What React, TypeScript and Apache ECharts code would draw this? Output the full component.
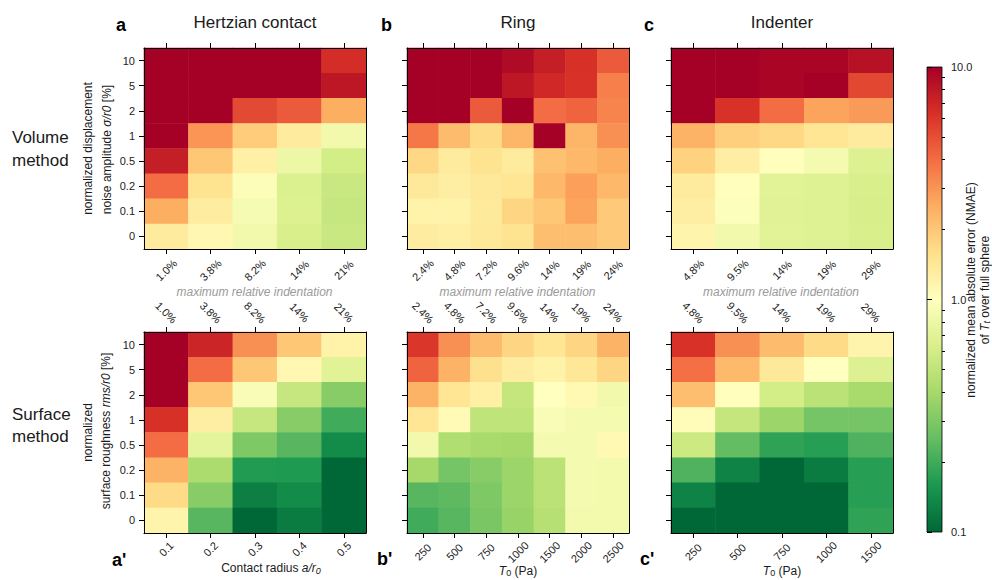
import React, { useEffect, useRef } from 'react';
import * as echarts from 'echarts';

const FONT = "'Liberation Sans', Arial, Helvetica, sans-serif";

// ---------- data ----------
const noiseLevels = ['0', '0.1', '0.2', '0.5', '1', '2', '5', '10'];
const hertzRadius = ['0.1', '0.2', '0.3', '0.4', '0.5'];
const hertzIndentation = ['1.0%', '3.8%', '8.2%', '14%', '21%'];
const ringT0 = ['250', '500', '750', '1000', '1500', '2000', '2500'];
const ringIndentation = ['2.4%', '4.8%', '7.2%', '9.6%', '14%', '19%', '24%'];
const indenterT0 = ['250', '500', '750', '1000', '1500'];
const indenterIndentation = ['4.8%', '9.5%', '14%', '19%', '29%'];

// NMAE values, rows listed from top (10) to bottom (0)
const volumeHertz = [
  [10, 10, 10, 10, 6.5],
  [10, 10, 10, 10, 8],
  [10, 10, 5.2, 4.6, 2.5],
  [10, 3.0, 1.9, 1.35, 0.85],
  [7.5, 2.0, 1.25, 0.8, 0.6],
  [4.0, 1.5, 0.95, 0.65, 0.55],
  [2.5, 1.3, 0.9, 0.66, 0.53],
  [1.35, 1.12, 0.85, 0.63, 0.55],
];
const volumeRing = [
  [10, 10, 10, 9, 7.5, 6.3, 4.6],
  [10, 10, 10, 8, 6.8, 6.2, 3.5],
  [10, 10, 4.6, 10, 4.0, 4.3, 3.4],
  [3.7, 2.2, 1.65, 2.35, 10, 2.35, 3.1],
  [1.7, 1.35, 1.5, 1.35, 2.1, 2.3, 2.5],
  [1.4, 1.28, 1.4, 1.45, 2.3, 2.8, 2.3],
  [1.22, 1.2, 1.37, 1.75, 2.0, 2.7, 1.95],
  [1.3, 1.27, 1.4, 1.5, 2.15, 2.15, 1.95],
];
const volumeIndenter = [
  [10, 10, 9.5, 9.5, 8.5],
  [10, 10, 9.5, 10, 5.3],
  [10, 6.2, 4.0, 2.7, 2.9],
  [2.4, 1.85, 1.7, 1.45, 1.35],
  [1.8, 1.28, 1.02, 0.87, 0.67],
  [1.35, 1.02, 0.7, 0.68, 0.63],
  [1.28, 0.97, 0.69, 0.68, 0.62],
  [1.18, 0.85, 0.7, 0.68, 0.63],
];
const surfaceHertz = [
  [10, 7, 3.1, 2.0, 1.22],
  [10, 4.0, 2.0, 1.12, 0.7],
  [10, 2.0, 0.92, 0.53, 0.32],
  [6.3, 1.28, 0.53, 0.32, 0.2],
  [4.0, 0.72, 0.3, 0.23, 0.14],
  [2.4, 0.42, 0.165, 0.163, 0.1],
  [1.65, 0.32, 0.125, 0.14, 0.1],
  [1.18, 0.23, 0.1, 0.12, 0.1],
];
const surfaceRing = [
  [6.0, 3.1, 2.2, 1.75, 1.45, 1.75, 2.4],
  [4.3, 2.4, 1.55, 1.32, 1.22, 1.42, 1.75],
  [2.4, 1.45, 1.25, 0.52, 1.0, 1.1, 0.85],
  [1.45, 1.08, 0.5, 0.5, 0.93, 0.88, 0.88],
  [0.85, 0.44, 0.41, 0.4, 0.88, 0.87, 1.1],
  [0.4, 0.28, 0.32, 0.37, 0.48, 0.87, 0.86],
  [0.23, 0.24, 0.3, 0.37, 0.48, 0.87, 0.86],
  [0.2, 0.23, 0.29, 0.36, 0.46, 0.86, 0.86],
];
const surfaceIndenter = [
  [6.2, 3.1, 2.2, 1.65, 1.18],
  [3.9, 2.25, 1.4, 1.0, 0.67],
  [2.15, 1.02, 0.6, 0.48, 0.41],
  [1.05, 0.52, 0.37, 0.28, 0.28],
  [0.56, 0.25, 0.18, 0.17, 0.22],
  [0.22, 0.13, 0.1, 0.12, 0.17],
  [0.13, 0.1, 0.1, 0.1, 0.17],
  [0.1, 0.1, 0.1, 0.1, 0.18],
];

const colorbarRange = [0.1, 10];
const colorbarMajorTicks = [0.1, 1, 10];
const colorbarMinorTicks = [0.2, 0.3, 0.4, 0.5, 0.6, 0.7, 0.8, 0.9, 2, 3, 4, 5, 6, 7, 8, 9];

// RdYlGn reversed (low = green, high = red)
const RDYLGN_R = ['#006837', '#1a9850', '#66bd63', '#a6d96a', '#d9ef8b', '#ffffbf', '#fee08b', '#fdae61', '#f46d43', '#d73027', '#a50026'];

// ---------- layout ----------
const PW = 222;
const PH = 201;
const colLeft = [144, 407, 671];
const rowTop = [48, 332];

type Panel = {
  col: number;
  row: number;
  bottomCats: string[];
  topCats: string[];
  values: number[][];
  bottomMargin: number;
};

const panels: Panel[] = [
  { col: 0, row: 0, bottomCats: hertzIndentation, topCats: hertzIndentation, values: volumeHertz, bottomMargin: 21 },
  { col: 1, row: 0, bottomCats: ringIndentation, topCats: ringIndentation, values: volumeRing, bottomMargin: 21 },
  { col: 2, row: 0, bottomCats: indenterIndentation, topCats: indenterIndentation, values: volumeIndenter, bottomMargin: 21 },
  { col: 0, row: 1, bottomCats: hertzRadius, topCats: hertzIndentation, values: surfaceHertz, bottomMargin: 16 },
  { col: 1, row: 1, bottomCats: ringT0, topCats: ringIndentation, values: surfaceRing, bottomMargin: 19 },
  { col: 2, row: 1, bottomCats: indenterT0, topCats: indenterIndentation, values: surfaceIndenter, bottomMargin: 19 },
];

const toLog = (v: number) => Math.max(-1, Math.min(1, Math.log10(v)));

function buildOption() {
  const grid: any[] = [];
  const xAxis: any[] = [];
  const yAxis: any[] = [];
  const series: any[] = [];

  const tickLabel = { fontSize: 11, color: '#222', fontFamily: FONT };
  const lineStyle = { color: '#000', width: 1 };

  panels.forEach((p, i) => {
    grid.push({ left: colLeft[p.col], top: rowTop[p.row], width: PW, height: PH });
    xAxis.push({
      type: 'category', gridIndex: i, position: 'bottom', data: p.bottomCats, z: 10,
      axisLine: { show: true, lineStyle },
      axisTick: { show: true, alignWithLabel: true, length: 5, lineStyle },
      axisLabel: { ...tickLabel, show: true, interval: 0, rotate: 45, align: 'center', verticalAlign: 'middle', margin: p.bottomMargin },
      splitLine: { show: false },
    });
    xAxis.push({
      type: 'category', gridIndex: i, position: 'top', data: p.topCats, z: 10,
      axisLine: { show: true, lineStyle },
      axisTick: { show: true, alignWithLabel: true, length: 5, lineStyle },
      axisLabel: { ...tickLabel, show: p.row === 1, interval: 0, rotate: 45, align: 'center', verticalAlign: 'middle', margin: 19.5 },
      splitLine: { show: false },
    });
    yAxis.push({
      type: 'category', gridIndex: i, position: 'left', data: noiseLevels, z: 10,
      axisLine: { show: true, lineStyle },
      axisTick: { show: true, alignWithLabel: true, length: 5, lineStyle },
      axisLabel: { ...tickLabel, show: p.col === 0, interval: 0, margin: 9 },
      splitLine: { show: false },
    });
    yAxis.push({
      type: 'category', gridIndex: i, position: 'right', data: noiseLevels, z: 10,
      axisLine: { show: true, lineStyle },
      axisTick: { show: false },
      axisLabel: { show: false },
      splitLine: { show: false },
    });
    const data: number[][] = [];
    p.values.forEach((row, r) => {
      row.forEach((v, c) => {
        data.push([c, noiseLevels.length - 1 - r, toLog(v)]);
      });
    });
    series.push({
      type: 'heatmap',
      name: `panel${i}`,
      xAxisIndex: 2 * i,
      yAxisIndex: 2 * i,
      data,
      itemStyle: { borderWidth: 0 },
      emphasis: { disabled: true },
      progressive: 0,
    });
  });

  // colorbar grid
  const cbGrid = panels.length;
  const cbAxis = 2 * panels.length;
  grid.push({ left: 927, top: 67, width: 15, height: 465 });
  xAxis.push({ type: 'value', gridIndex: cbGrid, min: 0, max: 1, show: false });
  yAxis.push({
    type: 'log', gridIndex: cbGrid, position: 'right', min: colorbarRange[0], max: colorbarRange[1], logBase: 10, z: 10,
    axisLine: { show: false },
    axisTick: { show: true, length: 5, lineStyle: { color: '#000', width: 1 }, customValues: colorbarMajorTicks },
    axisLabel: {
      show: true, fontSize: 11, color: '#222', fontFamily: FONT, margin: 9,
      customValues: colorbarMajorTicks,
      formatter: (v: number) => Number(v).toFixed(1),
    },
    splitLine: { show: false },
  });
  yAxis.push({
    type: 'log', gridIndex: cbGrid, position: 'right', min: colorbarRange[0], max: colorbarRange[1], logBase: 10, z: 10, offset: 0,
    axisLine: { show: false },
    axisTick: { show: true, length: 3, lineStyle: { color: '#000', width: 1 }, customValues: colorbarMinorTicks },
    axisLabel: { show: false },
    splitLine: { show: false },
  });

  const stops = RDYLGN_R.map((c, k) => ({ offset: k / (RDYLGN_R.length - 1), color: c }));
  series.push({
    type: 'custom',
    name: 'colorbar',
    coordinateSystem: 'cartesian2d',
    xAxisIndex: cbAxis,
    yAxisIndex: cbAxis,
    data: [[0, colorbarRange[0], 1, colorbarRange[1]]],
    silent: true,
    renderItem: (params: any, api: any) => {
      const p0 = api.coord([api.value(0), api.value(3)]);
      const p1 = api.coord([api.value(2), api.value(1)]);
      return {
        type: 'rect',
        shape: { x: p0[0], y: p0[1], width: p1[0] - p0[0], height: p1[1] - p0[1] },
        style: {
          fill: new echarts.graphic.LinearGradient(0, 1, 0, 0, stops),
          stroke: '#000',
          lineWidth: 0.8,
        },
      };
    },
  });

  // ---------- texts ----------
  const txt = (x: number, y: number, text: string, extra: any = {}, rot = 0, rich?: any) => ({
    type: 'text',
    x,
    y,
    rotation: rot,
    silent: true,
    z: 20,
    style: {
      text,
      fontFamily: FONT,
      fontSize: 12,
      fill: '#1a1a1a',
      align: 'center',
      verticalAlign: 'middle',
      ...(rich ? { rich } : {}),
      ...extra,
    },
  });
  const italic = { fontStyle: 'italic', fontFamily: FONT, fontSize: 12, fill: '#1a1a1a' };
  const sub = { fontStyle: 'italic', fontFamily: FONT, fontSize: 9, fill: '#1a1a1a', padding: [5, 0, 0, 0] };
  const subN = { fontFamily: FONT, fontSize: 9, fill: '#1a1a1a', padding: [5, 0, 0, 0] };
  const R = Math.PI / 2;

  const graphic: any[] = [
    txt(255, 22, 'Hertzian contact', { fontSize: 17 }),
    txt(518, 22, 'Ring', { fontSize: 17 }),
    txt(782, 22, 'Indenter', { fontSize: 17 }),
    txt(116, 24.5, 'a', { fontSize: 18, fontWeight: 'bold', align: 'left', fill: '#000' }),
    txt(381, 24.5, 'b', { fontSize: 18, fontWeight: 'bold', align: 'left', fill: '#000' }),
    txt(644, 24.5, 'c', { fontSize: 18, fontWeight: 'bold', align: 'left', fill: '#000' }),
    txt(112, 559.5, "a'", { fontSize: 18, fontWeight: 'bold', align: 'left', fill: '#000' }),
    txt(377, 558.5, "b'", { fontSize: 18, fontWeight: 'bold', align: 'left', fill: '#000' }),
    txt(640, 558.5, "c'", { fontSize: 18, fontWeight: 'bold', align: 'left', fill: '#000' }),
    txt(12, 137, 'Volume', { fontSize: 17, align: 'left' }),
    txt(12, 160, 'method', { fontSize: 17, align: 'left' }),
    txt(12, 414, 'Surface', { fontSize: 17, align: 'left' }),
    txt(12, 436, 'method', { fontSize: 17, align: 'left' }),
    txt(88, 148.5, 'normalized displacement', {}, R),
    txt(107, 149.5, 'noise amplitude {i|σ/r0} [%]', {}, R, { i: italic }),
    txt(88, 432.5, 'normalized', {}, R),
    txt(106, 431, 'surface roughness {i|rms/r0} [%]', {}, R, { i: italic }),
    txt(254.5, 291.5, 'maximum relative indentation', { fontStyle: 'italic', fill: '#9a9a9a' }),
    txt(517.5, 291.5, 'maximum relative indentation', { fontStyle: 'italic', fill: '#9a9a9a' }),
    txt(781, 291.5, 'maximum relative indentation', { fontStyle: 'italic', fill: '#9a9a9a' }),
    txt(271, 568, 'Contact radius {i|a/r}{s|0}', {}, 0, { i: italic, s: sub }),
    txt(518, 570.5, '{i|T}{s|0} (Pa)', {}, 0, { i: italic, s: subN }),
    txt(782, 570.5, '{i|T}{s|0} (Pa)', {}, 0, { i: italic, s: subN }),
    txt(971, 290, 'normalized mean absolute error (NMAE)', {}, R),
    txt(984.5, 290, 'of {i|T}{s|t} over full sphere', {}, R, { i: italic, s: sub }),
  ];

  return {
    animation: false,
    backgroundColor: '#ffffff',
    textStyle: { fontFamily: FONT },
    grid,
    xAxis,
    yAxis,
    visualMap: {
      type: 'continuous',
      min: -1,
      max: 1,
      dimension: 2,
      seriesIndex: panels.map((_, i) => i),
      show: false,
      inRange: { color: RDYLGN_R },
    },
    series,
    graphic,
  };
}

export default function App() {
  const ref = useRef<HTMLDivElement>(null);
  useEffect(() => {
    if (!ref.current) return;
    const chart = echarts.init(ref.current, undefined, { renderer: 'svg' });
    chart.setOption(buildOption() as any);
    return () => chart.dispose();
  }, []);
  return (
    <div
      ref={ref}
      style={{ position: 'absolute', left: 0, top: 0, width: 992, height: 580, background: '#fff' }}
    />
  );
}
